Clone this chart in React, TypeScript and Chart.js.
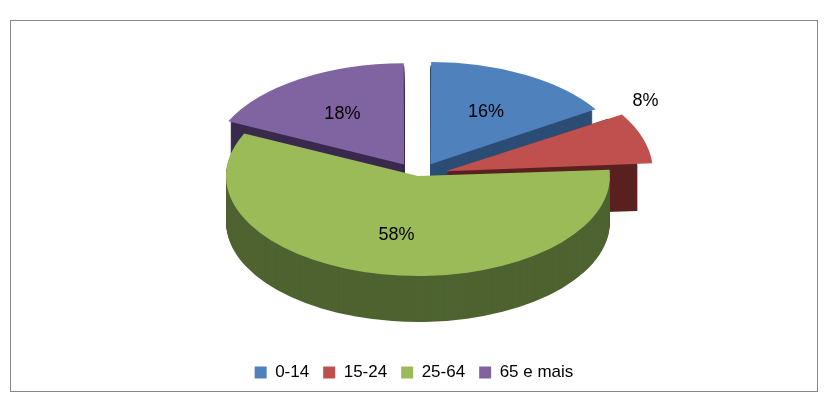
import React, { useEffect, useRef } from "react";
import { Chart, registerables } from "chart.js";
Chart.register(...registerables);

const labels = ["0-14", "15-24", "25-64", "65 e mais"];
const values = [16, 8, 58, 18];
const colors = ["#4F81BD", "#C0504D", "#9BBB59", "#8064A2"];
const sideColors = ["#2C4D75", "#5A2120", "#4E6330", "#3A2A4E"];
const offsets = [64, 72, 0, 64];

const RX = 192;
const RY = 100;
const DEPTH = 46;

const App = () => {
  const ref = useRef<HTMLCanvasElement | null>(null);
  useEffect(() => {
    if (!ref.current) return;
    const tf = (chart: any) => {
      const a = chart.getDatasetMeta(0).data[0] as any;
      const r = a.outerRadius;
      return { cx: a.x, cy: a.y, sx: RX / r, sy: RY / r, tx: 407, ty: 155 };
    };
    const pie3d = {
      id: "pie3d",
      beforeDatasetsDraw(chart: any) {
        const ctx = chart.ctx;
        const t = tf(chart);
        ctx.save();
        ctx.translate(t.tx, t.ty);
        ctx.scale(t.sx, t.sy);
        ctx.translate(-t.cx, -t.cy);
        const arcs = chart.getDatasetMeta(0).data as any[];
        const order = [0, 3, 1, 2];
        order.forEach((i) => {
          const a = arcs[i];
          const mid = (a.startAngle + a.endAngle) / 2;
          const ox = (Math.cos(mid) * offsets[i]) / 4;
          const oy = (Math.sin(mid) * offsets[i]) / 4;
          for (let d = DEPTH; d > 0; d -= 1) {
            ctx.beginPath();
            ctx.moveTo(a.x + ox, a.y + oy + d / t.sy);
            ctx.arc(a.x + ox, a.y + oy + d / t.sy, a.outerRadius, a.startAngle, a.endAngle);
            ctx.closePath();
            ctx.fillStyle = sideColors[i];
            ctx.fill();
          }
        });
      },
      afterDatasetsDraw(chart: any) {
        chart.ctx.restore();
      },
      afterDraw(chart: any) {
        const ctx = chart.ctx;
        const t = tf(chart);
        const arcs = chart.getDatasetMeta(0).data as any[];
        ctx.save();
        ctx.font = "18px 'Liberation Sans', Arial";
        ctx.fillStyle = "#000";
        ctx.textAlign = "center";
        ctx.textBaseline = "middle";
        arcs.forEach((a, i) => {
          const mid = (a.startAngle + a.endAngle) / 2 - (i === 1 ? 0.25 : 0);
          const f = i === 1 ? 1.25 : 0.6;
          const rr = a.outerRadius * f + offsets[i] / 4;
          const x = t.tx + Math.cos(mid) * rr * t.sx;
          const y = t.ty + Math.sin(mid) * rr * t.sy;
          ctx.fillText(values[i] + "%", x, y);
        });
        ctx.restore();
      },
    };
    const chart = new Chart(ref.current, {
      type: "pie",
      data: {
        labels,
        datasets: [
          {
            data: values,
            backgroundColor: colors,
            borderWidth: 0,
            offset: offsets,
          },
        ],
      },
      options: {
        animation: false,
        responsive: false,
        layout: { padding: { top: 20, bottom: 0 } },
        plugins: {
          tooltip: { enabled: false },
          legend: {
            position: "bottom",
            labels: {
              boxWidth: 12,
              boxHeight: 12,
              padding: 14,
              color: "#000",
              font: { family: "'Liberation Sans', Arial", size: 17 },
            },
          },
        },
      },
      plugins: [pie3d],
    });
    return () => chart.destroy();
  }, []);
  return (
    <div style={{ marginLeft: 2, marginTop: 12, width: 808, height: 372, border: "1px solid #888", boxSizing: "border-box" }}>
      <canvas ref={ref} width={806} height={370} />
    </div>
  );
};

export default App;
